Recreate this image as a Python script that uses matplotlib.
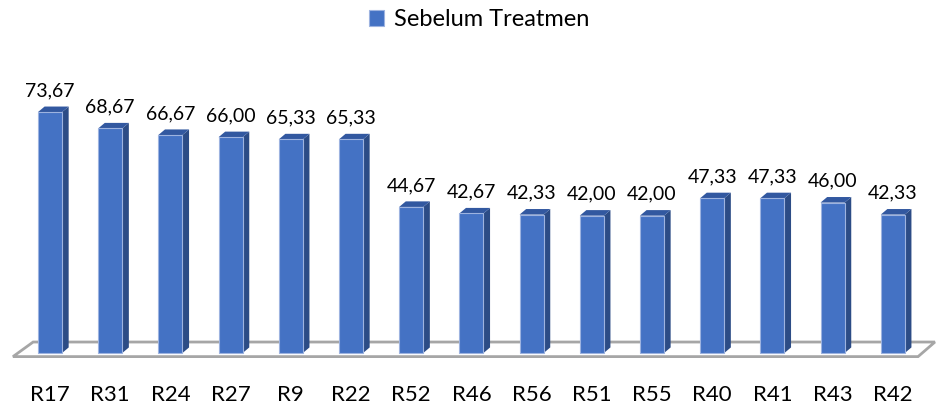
import matplotlib.pyplot as plt
from matplotlib.patches import Polygon

categories = ["R17", "R31", "R24", "R27", "R9", "R22", "R52", "R46",
              "R56", "R51", "R55", "R40", "R41", "R43", "R42"]
values = [73.67, 68.67, 66.67, 66.00, 65.33, 65.33, 44.67, 42.67,
          42.33, 42.00, 42.00, 47.33, 47.33, 46.00, 42.33]
series_name = "Sebelum Treatmen"

plt.rcParams['font.family'] = ['Lato', 'DejaVu Sans']

fig = plt.figure(figsize=(9.36, 4.07), dpi=100)
ax = fig.add_axes([0, 0, 1, 1])
ax.set_xlim(-0.8306, 14.718)
ax.set_ylim(-16.51, 107.95)
ax.axis('off')

# floor of the 3d box
floor = Polygon([(-0.615, -1.1), (14.42, -1.1), (14.70, 3.36), (-0.28, 3.36)],
                closed=True, facecolor='white', edgecolor='#A6A6A6', lw=2, zorder=1)
ax.add_patch(floor)

w = 0.4
dx, dy = 0.11, 1.7
x = list(range(len(categories)))
bars = ax.bar(x, values, width=w, color='#4472C4', edgecolor='#9DB3E0',
              linewidth=0.8, zorder=3, label=series_name)

for i, v in zip(x, values):
    xl, xr = i - w / 2, i + w / 2
    side = Polygon([(xr, 0), (xr + dx, dy), (xr + dx, v + dy), (xr, v)],
                   closed=True, facecolor='#2C4C86', edgecolor='none', zorder=2)
    cap = Polygon([(xl, v), (xr, v), (xr + dx, v + dy), (xl + dx, v + dy)],
                  closed=True, facecolor='#3258A0', edgecolor='none', zorder=2)
    ax.add_patch(side)
    ax.add_patch(cap)
    ax.annotate(f"{v:.2f}".replace('.', ','), (i, v), xytext=(0, 16),
                textcoords='offset pixels', ha='center', va='baseline',
                fontsize=14, color='black')
    ax.text(i, -12.7, categories[i], ha='center', va='center',
            fontsize=16, color='black')

ax.legend(handles=[bars], labels=[series_name], loc='center',
          bbox_to_anchor=(0.512, 0.951), frameon=False, fontsize=17,
          handlelength=0.65, handleheight=0.65, handletextpad=0.4)

fig.savefig('out.png', dpi=100)
